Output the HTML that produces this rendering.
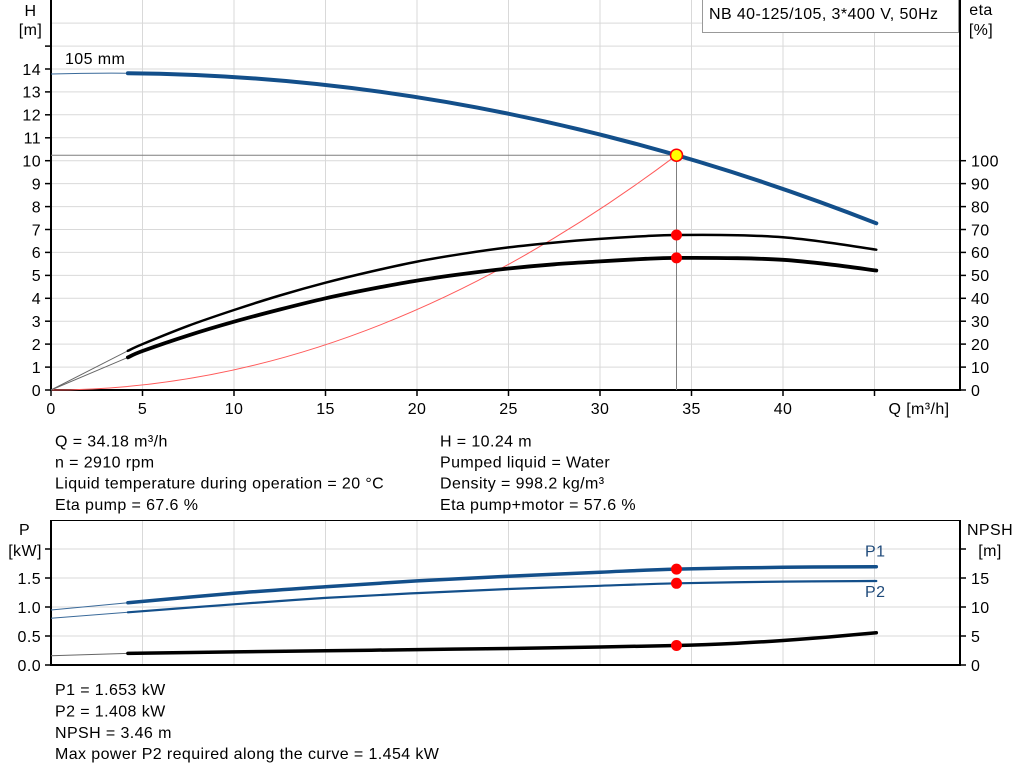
<!DOCTYPE html>
<html><head><meta charset="utf-8"><style>
html,body{margin:0;padding:0;background:#fff;}
svg{display:block;}
text{font-family:"Liberation Sans",Arial,sans-serif;font-size:16px;fill:#000;letter-spacing:0.4px;}
</style></head><body>
<svg id="chart" width="1024" height="781" viewBox="0 0 1024 781" xmlns="http://www.w3.org/2000/svg">
<rect width="1024" height="781" fill="#fff"/>
<!-- top grid -->
<g stroke="#d9d9d9" stroke-width="1">
<line x1="51" x2="960" y1="367.1" y2="367.1"/><line x1="51" x2="960" y1="344.1" y2="344.1"/>
<line x1="51" x2="960" y1="321.2" y2="321.2"/><line x1="51" x2="960" y1="298.3" y2="298.3"/>
<line x1="51" x2="960" y1="275.4" y2="275.4"/><line x1="51" x2="960" y1="252.4" y2="252.4"/>
<line x1="51" x2="960" y1="229.5" y2="229.5"/><line x1="51" x2="960" y1="206.6" y2="206.6"/>
<line x1="51" x2="960" y1="183.6" y2="183.6"/><line x1="51" x2="960" y1="160.7" y2="160.7"/>
<line x1="51" x2="960" y1="137.8" y2="137.8"/><line x1="51" x2="960" y1="114.8" y2="114.8"/>
<line x1="51" x2="960" y1="91.9" y2="91.9"/><line x1="51" x2="960" y1="69.0" y2="69.0"/>
<line x1="51" x2="960" y1="46.1" y2="46.1"/><line x1="51" x2="960" y1="23.1" y2="23.1"/>
<line x1="142.5" x2="142.5" y1="0" y2="390"/><line x1="234" x2="234" y1="0" y2="390"/>
<line x1="325.5" x2="325.5" y1="0" y2="390"/><line x1="417" x2="417" y1="0" y2="390"/>
<line x1="508.5" x2="508.5" y1="0" y2="390"/><line x1="600" x2="600" y1="0" y2="390"/>
<line x1="691.5" x2="691.5" y1="0" y2="390"/><line x1="783" x2="783" y1="0" y2="390"/>
<line x1="874.5" x2="874.5" y1="0" y2="390"/>
</g>
<!-- top axes -->
<g stroke="#000" stroke-width="2" fill="none">
<line x1="51" y1="0" x2="51" y2="391"/>
<line x1="960" y1="0" x2="960" y2="391"/>
<line x1="50" y1="390" x2="961" y2="390"/>
</g>
<g stroke="#000" stroke-width="1.5">
<line x1="45" x2="51" y1="390" y2="390"/><line x1="45" x2="51" y1="367.1" y2="367.1"/>
<line x1="45" x2="51" y1="344.1" y2="344.1"/><line x1="45" x2="51" y1="321.2" y2="321.2"/>
<line x1="45" x2="51" y1="298.3" y2="298.3"/><line x1="45" x2="51" y1="275.4" y2="275.4"/>
<line x1="45" x2="51" y1="252.4" y2="252.4"/><line x1="45" x2="51" y1="229.5" y2="229.5"/>
<line x1="45" x2="51" y1="206.6" y2="206.6"/><line x1="45" x2="51" y1="183.6" y2="183.6"/>
<line x1="45" x2="51" y1="160.7" y2="160.7"/><line x1="45" x2="51" y1="137.8" y2="137.8"/>
<line x1="45" x2="51" y1="114.8" y2="114.8"/><line x1="45" x2="51" y1="91.9" y2="91.9"/>
<line x1="45" x2="51" y1="69.0" y2="69.0"/><line x1="45" x2="51" y1="46.1" y2="46.1"/>
<line x1="960" x2="966" y1="390" y2="390"/><line x1="960" x2="966" y1="367.1" y2="367.1"/>
<line x1="960" x2="966" y1="344.1" y2="344.1"/><line x1="960" x2="966" y1="321.2" y2="321.2"/>
<line x1="960" x2="966" y1="298.3" y2="298.3"/><line x1="960" x2="966" y1="275.4" y2="275.4"/>
<line x1="960" x2="966" y1="252.4" y2="252.4"/><line x1="960" x2="966" y1="229.5" y2="229.5"/>
<line x1="960" x2="966" y1="206.6" y2="206.6"/><line x1="960" x2="966" y1="183.6" y2="183.6"/>
<line x1="960" x2="966" y1="160.7" y2="160.7"/>
<line x1="51" x2="51" y1="390" y2="396"/><line x1="142.5" x2="142.5" y1="390" y2="396"/>
<line x1="234" x2="234" y1="390" y2="396"/><line x1="325.5" x2="325.5" y1="390" y2="396"/>
<line x1="417" x2="417" y1="390" y2="396"/><line x1="508.5" x2="508.5" y1="390" y2="396"/>
<line x1="600" x2="600" y1="390" y2="396"/><line x1="691.5" x2="691.5" y1="390" y2="396"/>
<line x1="783" x2="783" y1="390" y2="396"/><line x1="874.5" x2="874.5" y1="390" y2="396"/>
</g>
<g text-anchor="end">
<text x="41" y="395.8">0</text><text x="41" y="372.9">1</text><text x="41" y="349.9">2</text>
<text x="41" y="327.0">3</text><text x="41" y="304.1">4</text><text x="41" y="281.2">5</text>
<text x="41" y="258.2">6</text><text x="41" y="235.3">7</text><text x="41" y="212.4">8</text>
<text x="41" y="189.4">9</text><text x="41" y="166.5">10</text><text x="41" y="143.6">11</text>
<text x="41" y="120.6">12</text><text x="41" y="97.7">13</text><text x="41" y="74.8">14</text>
</g>
<g text-anchor="start">
<text x="971" y="395.8">0</text><text x="971" y="372.9">10</text><text x="971" y="349.9">20</text>
<text x="971" y="327.0">30</text><text x="971" y="304.1">40</text><text x="971" y="281.2">50</text>
<text x="971" y="258.2">60</text><text x="971" y="235.3">70</text><text x="971" y="212.4">80</text>
<text x="971" y="189.4">90</text><text x="971" y="166.5">100</text>
</g>
<g text-anchor="middle">
<text x="51" y="414">0</text><text x="142.5" y="414">5</text><text x="234" y="414">10</text>
<text x="325.5" y="414">15</text><text x="417" y="414">20</text><text x="508.5" y="414">25</text>
<text x="600" y="414">30</text><text x="691.5" y="414">35</text><text x="783" y="414">40</text>
<text x="919" y="414">Q [m³/h]</text>
<text x="30.5" y="15.8">H</text><text x="30.5" y="35">[m]</text>
<text x="981" y="15">eta</text><text x="981" y="35">[%]</text>
</g>
<text x="65" y="64">105 mm</text>
<rect x="702.5" y="-1" width="256" height="33.5" fill="#fff" stroke="#999" stroke-width="1"/>
<text x="709" y="19">NB 40-125/105, 3*400 V, 50Hz</text>

<g stroke="#7f7f7f" stroke-width="1">
<line x1="51" y1="155.2" x2="676.5" y2="155.2"/>
<line x1="676.5" y1="155.2" x2="676.5" y2="390"/>
</g>
<path d="M51,390 Q363.7,390 676.5,155.2" fill="none" stroke="#ff5a5a" stroke-width="1"/>
<g stroke="#666" stroke-width="1" fill="none">
<line x1="51" y1="390" x2="127.9" y2="350.8"/>
<line x1="51" y1="390" x2="127.9" y2="357.4"/>
</g>
<polyline class="sm" fill="none" stroke="#000" stroke-width="2.5" stroke-linejoin="round" stroke-linecap="round"
points="127.9,350.8 142.5,344.1 188.3,325.8 234,310.0 279.8,295.5 325.5,282.7 371.3,271.5 417,261.6 462.8,253.8 508.5,247.4 554.3,242.6 600,238.9 645.8,236.1 676.5,235.0 737.3,235.2 783,237.3 828.8,242.6 876.3,249.7"/>
<polyline class="sm" fill="none" stroke="#000" stroke-width="3.8" stroke-linejoin="round" stroke-linecap="round"
points="127.9,357.4 142.5,351.0 188.3,335.4 234,321.7 279.8,309.5 325.5,298.3 371.3,288.9 417,280.6 462.8,274.0 508.5,268.5 554.3,264.3 600,261.4 645.8,258.8 676.5,257.9 737.3,258.2 783,259.8 828.8,264.3 876.3,270.5"/>
<path d="M51,74 Q89.5,72.9 127.9,73.2" fill="none" stroke="#3a6a9a" stroke-width="1"/>
<path d="M127.9,73.2 Q502.1,76.6 876.3,223.3" fill="none" stroke="#134f8a" stroke-width="4" stroke-linecap="round"/>
<circle cx="676.5" cy="235" r="5.5" fill="#ff0000"/>
<circle cx="676.5" cy="257.9" r="5.5" fill="#ff0000"/>
<circle cx="676.5" cy="155.2" r="6" fill="#ffff00" stroke="#ff0000" stroke-width="1.5"/>

<text x="55" y="446.3">Q = 34.18 m³/h</text>
<text x="55" y="467.5">n = 2910 rpm</text>
<text x="55" y="488.7">Liquid temperature during operation = 20 °C</text>
<text x="55" y="509.9">Eta pump = 67.6 %</text>
<text x="440" y="446.3">H = 10.24 m</text>
<text x="440" y="467.5">Pumped liquid = Water</text>
<text x="440" y="488.7">Density = 998.2 kg/m³</text>
<text x="440" y="509.9">Eta pump+motor = 57.6 %</text>

<g stroke="#d9d9d9" stroke-width="1">
<line x1="51" x2="960" y1="636" y2="636"/><line x1="51" x2="960" y1="607" y2="607"/>
<line x1="51" x2="960" y1="578" y2="578"/><line x1="51" x2="960" y1="549" y2="549"/>
<line x1="142.5" x2="142.5" y1="520" y2="665"/><line x1="234" x2="234" y1="520" y2="665"/>
<line x1="325.5" x2="325.5" y1="520" y2="665"/><line x1="417" x2="417" y1="520" y2="665"/>
<line x1="508.5" x2="508.5" y1="520" y2="665"/><line x1="600" x2="600" y1="520" y2="665"/>
<line x1="691.5" x2="691.5" y1="520" y2="665"/><line x1="783" x2="783" y1="520" y2="665"/>
<line x1="874.5" x2="874.5" y1="520" y2="665"/>
</g>
<line x1="51" y1="520.5" x2="960" y2="520.5" stroke="#000" stroke-width="1"/>
<g stroke="#000" stroke-width="2">
<line x1="51" y1="520" x2="51" y2="666"/>
<line x1="960" y1="520" x2="960" y2="666"/>
<line x1="50" y1="665" x2="961" y2="665"/>
</g>
<g stroke="#000" stroke-width="1.5">
<line x1="45" x2="51" y1="665" y2="665"/><line x1="45" x2="51" y1="636" y2="636"/>
<line x1="45" x2="51" y1="607" y2="607"/><line x1="45" x2="51" y1="578" y2="578"/>
<line x1="45" x2="51" y1="549" y2="549"/>
<line x1="960" x2="966" y1="665" y2="665"/><line x1="960" x2="966" y1="636" y2="636"/>
<line x1="960" x2="966" y1="607" y2="607"/><line x1="960" x2="966" y1="578" y2="578"/>
<line x1="960" x2="966" y1="549" y2="549"/>
</g>
<g text-anchor="end">
<text x="41" y="670.8">0.0</text><text x="41" y="641.8">0.5</text>
<text x="41" y="612.8">1.0</text><text x="41" y="583.8">1.5</text>
</g>
<g text-anchor="start">
<text x="971" y="670.8">0</text><text x="971" y="641.8">5</text>
<text x="971" y="612.8">10</text><text x="971" y="583.8">15</text>
</g>
<g text-anchor="middle">
<text x="24.5" y="534.8">P</text><text x="25" y="556">[kW]</text>
<text x="990" y="534.8">NPSH</text><text x="990" y="556">[m]</text>
</g>
<line x1="51" y1="610" x2="127.9" y2="602.7" stroke="#3a6a9a" stroke-width="1"/>
<line x1="51" y1="618.3" x2="127.9" y2="612.3" stroke="#3a6a9a" stroke-width="1"/>
<line x1="51" y1="655.7" x2="127.9" y2="653.4" stroke="#666" stroke-width="1"/>
<polyline class="sm" fill="none" stroke="#134f8a" stroke-width="3.5" stroke-linejoin="round" stroke-linecap="round"
points="127.9,602.7 234,593.3 325.5,586.7 417,580.9 508.5,576.3 600,572.2 676.5,569.1 783,567.3 876.3,566.7"/>
<polyline class="sm" fill="none" stroke="#134f8a" stroke-width="2.2" stroke-linejoin="round" stroke-linecap="round"
points="127.9,612.3 234,604.3 325.5,597.9 417,593.1 508.5,589.0 600,585.8 676.5,583.3 783,581.6 876.3,581.0"/>
<polyline class="sm" fill="none" stroke="#000" stroke-width="3.5" stroke-linejoin="round" stroke-linecap="round"
points="127.9,653.4 234,651.9 325.5,650.8 417,649.6 508.5,648.5 600,647.0 676.5,645.5 737.3,643.2 783,640.5 828.8,637.0 876.3,632.7"/>
<circle cx="676.5" cy="569.1" r="5.5" fill="#ff0000"/>
<circle cx="676.5" cy="583.3" r="5.5" fill="#ff0000"/>
<circle cx="676.5" cy="645.5" r="5.5" fill="#ff0000"/>
<text x="865" y="556.5" style="fill:#1f4a7a">P1</text>
<text x="865" y="596.8" style="fill:#1f4a7a">P2</text>

<text x="55" y="695">P1 = 1.653 kW</text>
<text x="55" y="716.4">P2 = 1.408 kW</text>
<text x="55" y="737.8">NPSH = 3.46 m</text>
<text x="55" y="759.1">Max power P2 required along the curve = 1.454 kW</text>
</svg>
<script>
(function(){
  var els = document.querySelectorAll('polyline.sm');
  for (var i=0;i<els.length;i++){
    var pl = els[i];
    var raw = pl.getAttribute('points').trim().split(/\s+/).map(function(s){var a=s.split(',');return [parseFloat(a[0]),parseFloat(a[1])];});
    var n = raw.length;
    var d = 'M'+raw[0][0]+','+raw[0][1];
    for (var k=0;k<n-1;k++){
      var p0 = raw[k>0?k-1:0], p1 = raw[k], p2 = raw[k+1], p3 = raw[k+2<n?k+2:n-1];
      var c1x = p1[0]+(p2[0]-p0[0])/6, c1y = p1[1]+(p2[1]-p0[1])/6;
      var c2x = p2[0]-(p3[0]-p1[0])/6, c2y = p2[1]-(p3[1]-p1[1])/6;
      d += ' C'+c1x.toFixed(2)+','+c1y.toFixed(2)+' '+c2x.toFixed(2)+','+c2y.toFixed(2)+' '+p2[0]+','+p2[1];
    }
    var path = document.createElementNS('http://www.w3.org/2000/svg','path');
    path.setAttribute('d', d);
    ['fill','stroke','stroke-width','stroke-linejoin','stroke-linecap'].forEach(function(a){ if(pl.getAttribute(a)) path.setAttribute(a, pl.getAttribute(a)); });
    pl.parentNode.replaceChild(path, pl);
  }
})();
</script>
</body></html>
